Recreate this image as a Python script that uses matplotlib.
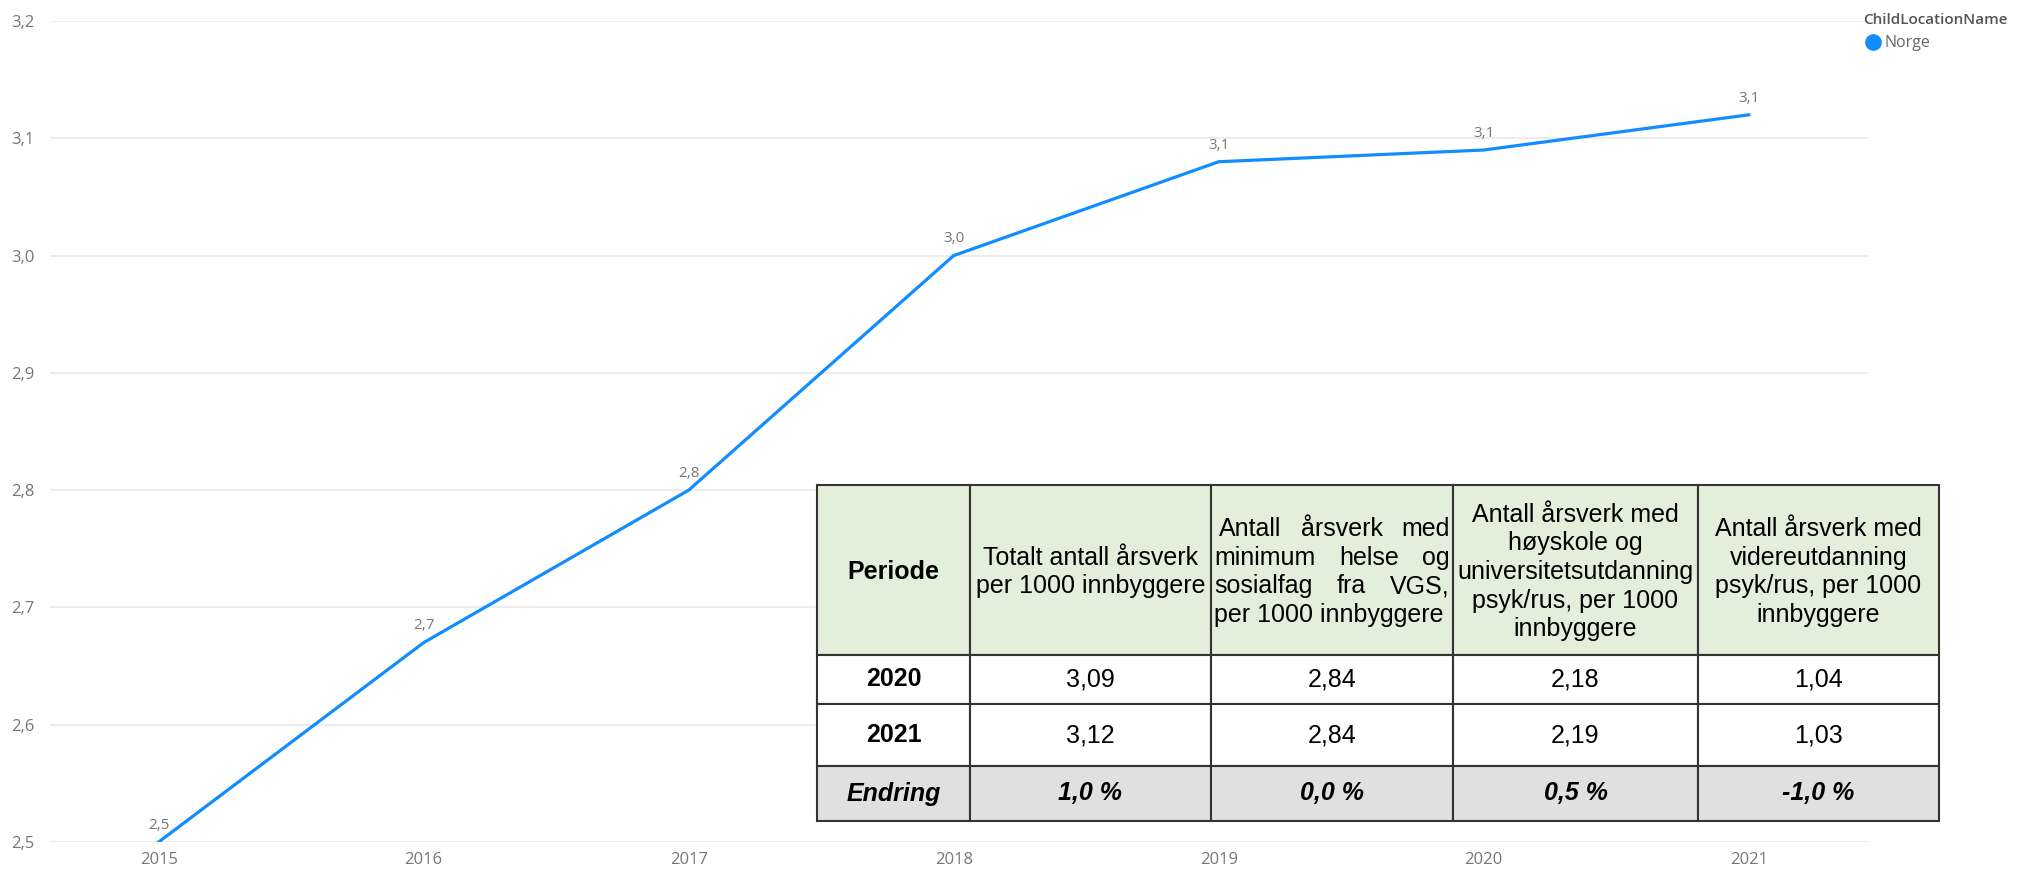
import matplotlib
matplotlib.use("Agg")
import matplotlib.pyplot as plt
from matplotlib.patches import Rectangle
from matplotlib.lines import Line2D

# ---------- data ----------
years = [2015, 2016, 2017, 2018, 2019, 2020, 2021]
values = [2.50, 2.67, 2.80, 3.00, 3.08, 3.09, 3.12]
value_labels = ["2,5", "2,7", "2,8", "3,0", "3,1", "3,1", "3,1"]
y_ticks = [2.5, 2.6, 2.7, 2.8, 2.9, 3.0, 3.1, 3.2]
y_tick_labels = ["2,5", "2,6", "2,7", "2,8", "2,9", "3,0", "3,1", "3,2"]
legend_title = "ChildLocationName"
series_name = "Norge"

table_header = [
    "Periode",
    "Totalt antall årsverk\nper 1000 innbyggere",
    "Antall årsverk med\nminimum helse og\nsosialfag fra VGS,\nper 1000 innbyggere",
    "Antall årsverk med\nhøyskole og\nuniversitetsutdanning\npsyk/rus, per 1000\ninnbyggere",
    "Antall årsverk med\nvidereutdanning\npsyk/rus, per 1000\ninnbyggere",
]
table_rows = [
    ["2020", "3,09", "2,84", "2,18", "1,04"],
    ["2021", "3,12", "2,84", "2,19", "1,03"],
    ["Endring", "1,0 %", "0,0 %", "0,5 %", "-1,0 %"],
]

LINE_COLOR = "#118DFF"
TICK_COLOR = "#777777"
W, H = 2020, 869

fig = plt.figure(figsize=(W / 100, H / 100), dpi=100)

# ---------- line chart ----------
ax = fig.add_axes([50 / W, 27 / H, 1818 / W, 821 / H])
ax.plot(years, values, color=LINE_COLOR, lw=2.3, solid_joinstyle="round")
ax.set_xlim(2014.59, 2021.45)
ax.set_ylim(2.5, 3.2)
ax.set_yticks(y_ticks)
ax.set_yticklabels(y_tick_labels)
ax.set_xticks(years)
ax.set_xticklabels([str(y) for y in years])
ax.grid(axis="y", color="#EAEAEA", lw=1.3)
ax.set_axisbelow(True)
for s in ax.spines.values():
    s.set_visible(False)
ax.tick_params(axis="both", length=0, labelsize=12, labelcolor=TICK_COLOR)
ax.tick_params(axis="y", pad=11)
ax.tick_params(axis="x", pad=7)
for lab in ax.get_xticklabels() + ax.get_yticklabels():
    lab.set_family("Open Sans")

for x, y, t in zip(years, values, value_labels):
    ax.annotate(t, (x, y), xytext=(0, 12), textcoords="offset points",
                ha="center", va="center", fontsize=11, color=TICK_COLOR,
                family="Open Sans")

# legend
fig.text(1863 / W, 1 - 20 / H, legend_title, fontsize=11, color="#555555",
         fontweight="semibold", family="Open Sans", va="center", ha="left")
fig.add_artist(Line2D([1873 / W], [1 - 42 / H], marker="o", ms=11,
                      color=LINE_COLOR, transform=fig.transFigure))
fig.text(1884 / W, 1 - 43 / H, series_name, fontsize=11.5, color="#666666",
         family="Open Sans", va="center", ha="left")

# ---------- table ----------
col_widths = [153, 241, 242, 245, 241]
row_heights = [170, 49, 62, 55]
tw, th = sum(col_widths), sum(row_heights)
tax = fig.add_axes([817 / W, (H - 821) / H, tw / W, th / H])
tax.set_xlim(0, tw)
tax.set_ylim(th, 0)
tax.axis("off")

FS = 18
FONT = "Liberation Sans"
LSP = 1.24
fills = ["#E2EFDA", "white", "white", "#E0E0E0"]

renderer = fig.canvas.get_renderer()


def justified(cx0, cx1, cy, text, line_gap=28.5):
    lines = text.split("\n")
    n = len(lines)
    for i, line in enumerate(lines):
        y = cy + (i - (n - 1) / 2) * line_gap
        words = line.split(" ")
        if i == n - 1 or len(words) == 1:
            tax.text(cx0 + 3, y, line, ha="left", va="center", fontsize=FS, family=FONT)
            continue
        arts = [tax.text(0, y, w, ha="left", va="center", fontsize=FS, family=FONT)
                for w in words]
        widths = [a.get_window_extent(renderer).width for a in arts]
        lead = 8 if i == 0 else 3
        gap = ((cx1 - cx0 - 3 - lead) - sum(widths)) / (len(words) - 1)
        x = cx0 + lead
        for a, w in zip(arts, widths):
            a.set_x(x)
            x += w + gap


y0 = 0
for r, rh in enumerate(row_heights):
    x0 = 0
    for c, cw in enumerate(col_widths):
        tax.add_patch(Rectangle((x0, y0), cw, rh, facecolor=fills[r],
                                edgecolor="#333333", lw=1.5, clip_on=False))
        cx, cy = x0 + cw / 2, y0 + rh / 2
        if r == 0:
            if c == 2:
                justified(x0, x0 + cw, cy + 2, table_header[c])
            else:
                tax.text(cx, cy + 2, table_header[c], ha="center", va="center",
                         fontsize=FS, family=FONT, linespacing=LSP,
                         fontweight="bold" if c == 0 else "normal")
        else:
            txt = table_rows[r - 1][c]
            weight = "bold" if (c == 0 or r == 3) else "normal"
            style = "italic" if r == 3 else "normal"
            tax.text(cx, cy, txt, ha="center", va="center", fontsize=FS,
                     family=FONT, fontweight=weight, fontstyle=style)
        x0 += cw
    y0 += rh

fig.savefig("out.png", dpi=100)
